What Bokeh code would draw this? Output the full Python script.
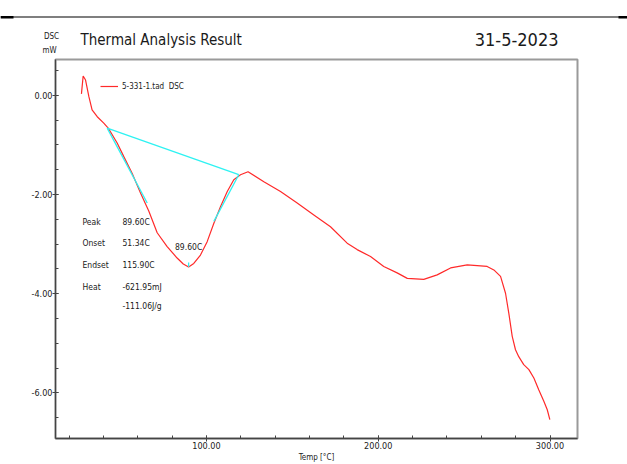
from bokeh.plotting import figure
from bokeh.models import (Label, Legend, LegendItem, SingleIntervalTicker,
                          NumeralTickFormatter, Range1d)
from bokeh.embed import file_html
from bokeh.resources import INLINE

# DSC trace: temperature [°C] and heat flow [mW]
temp = [27.2, 28.2, 29.6, 31.5, 33.4, 36.4, 40.2, 42.8, 48.0, 51.8, 56.7, 61.6,
        66.4, 71.3, 77.1, 82.9, 86.5, 89.6, 92.6, 96.5, 100.4, 104.3, 108.2,
        112.1, 115.9, 119.8, 124.2, 133.4, 143.1, 152.8, 162.5, 172.2, 181.9,
        187.7, 195.5, 203.2, 211.0, 216.9, 226.5, 234.3, 242.1, 251.8, 263.4,
        267.3, 271.2, 274.1, 276.0, 278.0, 279.9, 281.8, 284.7, 287.7, 290.6,
        293.5, 296.4, 298.4, 299.9]
dsc = [0.03, 0.39, 0.31, -0.02, -0.29, -0.43, -0.56, -0.66, -0.96, -1.23, -1.57,
       -1.97, -2.33, -2.77, -3.05, -3.28, -3.40, -3.46, -3.39, -3.22, -2.95,
       -2.58, -2.24, -1.94, -1.70, -1.60, -1.54, -1.74, -1.94, -2.17, -2.41,
       -2.65, -2.98, -3.11, -3.25, -3.45, -3.58, -3.69, -3.71, -3.62, -3.48,
       -3.42, -3.45, -3.52, -3.65, -3.99, -4.39, -4.86, -5.13, -5.27, -5.43,
       -5.53, -5.70, -5.94, -6.17, -6.34, -6.54]

# Peak evaluation construction lines
baseline_t = [42.2, 118.8]
baseline_v = [-0.66, -1.60]
onset_tangent_t = [42.2, 65.5]
onset_tangent_v = [-0.66, -2.17]
endset_tangent_t = [104.3, 118.8]
endset_tangent_v = [-2.54, -1.60]
peak_t = 89.60
peak_v = -3.46

result_names = ["Peak", "Onset", "Endset", "Heat", ""]
result_values = ["89.60C", "51.34C", "115.90C", "-621.95mJ", "-111.06J/g"]

series_label = "5-331-1.tad  DSC"
title_text = "Thermal Analysis Result"
date_text = "31-5-2023"

FONT = "'Liberation Sans Narrow', 'DejaVu Sans Condensed', sans-serif"
RED = "#ff2a2a"
CYAN = "#2ef2f2"
INK = "#1a1a1a"

# ---- page header: rule, report title, date and unit caption ----
header = figure(width=627, height=58, x_range=(0, 627), y_range=(58, 0),
                x_axis_type=None, y_axis_type=None, output_backend="svg",
                toolbar_location=None, min_border=0)
header.grid.visible = False
header.outline_line_color = None
header.line([0, 627], [16.5, 16.5], color="black", line_width=1.2)
header.segment(x0=[0, 618], y0=[16.8, 16.8], x1=[13, 627], y1=[16.8, 16.8],
               color="black", line_width=2.4)


def header_label(text, x, y, size, align="left"):
    header.add_layout(Label(text=text, x=x, y=y, text_font=FONT,
                            text_font_size=size, text_color=INK,
                            text_align=align, text_baseline="middle"))


header_label(title_text, 80, 39, "15px")
header_label(date_text, 558, 39, "18px", align="right")
header_label("DSC", 51, 36, "8px", align="center")
header_label("mW", 49, 50, "8px", align="center")

# ---- DSC plot ----
p = figure(width=627, height=406,
           x_range=Range1d(12.1, 316.0), y_range=Range1d(-6.92, 0.724),
           output_backend="svg", toolbar_location=None,
           min_border_left=55, min_border_right=50,
           min_border_top=1, min_border_bottom=25)
p.grid.visible = False
p.outline_line_color = "#9a9a9a"
p.outline_line_width = 2

curve = p.line(temp, dsc, color=RED, line_width=1.2)
p.line(baseline_t, baseline_v, color=CYAN, line_width=1.3)
p.line(onset_tangent_t, onset_tangent_v, color=CYAN, line_width=1.3)
p.line(endset_tangent_t, endset_tangent_v, color=CYAN, line_width=1.3)
p.segment(x0=[peak_t], y0=[peak_v], x1=[peak_t], y1=[peak_v + 0.09],
          color=CYAN, line_width=1.3)

for ax, step, minor in ((p.xaxis, 100, 5), (p.yaxis, 2, 4)):
    ax.ticker = SingleIntervalTicker(interval=step, num_minor_ticks=minor)
    ax.formatter = NumeralTickFormatter(format="0.00")
    ax.axis_line_color = "#444444"
    ax.axis_line_width = 1.3
    ax.major_tick_line_color = "#444444"
    ax.minor_tick_line_color = "#444444"
    ax.major_tick_in = 3
    ax.major_tick_out = 3
    ax.minor_tick_in = 3
    ax.minor_tick_out = 0
    ax.major_label_standoff = 0
    ax.major_label_text_font = FONT
    ax.major_label_text_font_size = "9px"
    ax.major_label_text_color = "#222222"

p.xaxis.axis_label = "Temp [°C]"
p.xaxis.axis_label_standoff = 1
p.xaxis.axis_label_text_font = FONT
p.xaxis.axis_label_text_font_size = "8px"
p.xaxis.axis_label_text_font_style = "normal"
p.xaxis.axis_label_text_color = INK

legend = Legend(items=[LegendItem(label=series_label, renderers=[curve])],
                location=(45, 347), padding=0, margin=0, spacing=0,
                glyph_width=18, glyph_height=10, label_height=10,
                label_standoff=4, border_line_alpha=0,
                background_fill_alpha=0, label_text_font=FONT,
                label_text_font_size="8px", label_text_color="#222222")
p.add_layout(legend)


def frame_label(text, x, y, size, align="left"):
    p.add_layout(Label(text=text, x=x, y=y, x_units="screen", y_units="screen",
                       text_font=FONT, text_font_size=size, text_color=INK,
                       text_align=align, text_baseline="middle"))


# evaluation results
rows_y = [217, 196, 174, 152, 133]
for name, val, yy in zip(result_names, result_values, rows_y):
    if name:
        frame_label(name, 27, yy, "8.5px")
    frame_label(val, 67, yy, "8.5px")

p.add_layout(Label(text=result_values[0], x=peak_t, y=peak_v, y_offset=20,
                   text_font=FONT, text_font_size="8.5px", text_color=INK,
                   text_align="center", text_baseline="middle"))

open("out.html", "w").write(file_html([header, p], INLINE))
